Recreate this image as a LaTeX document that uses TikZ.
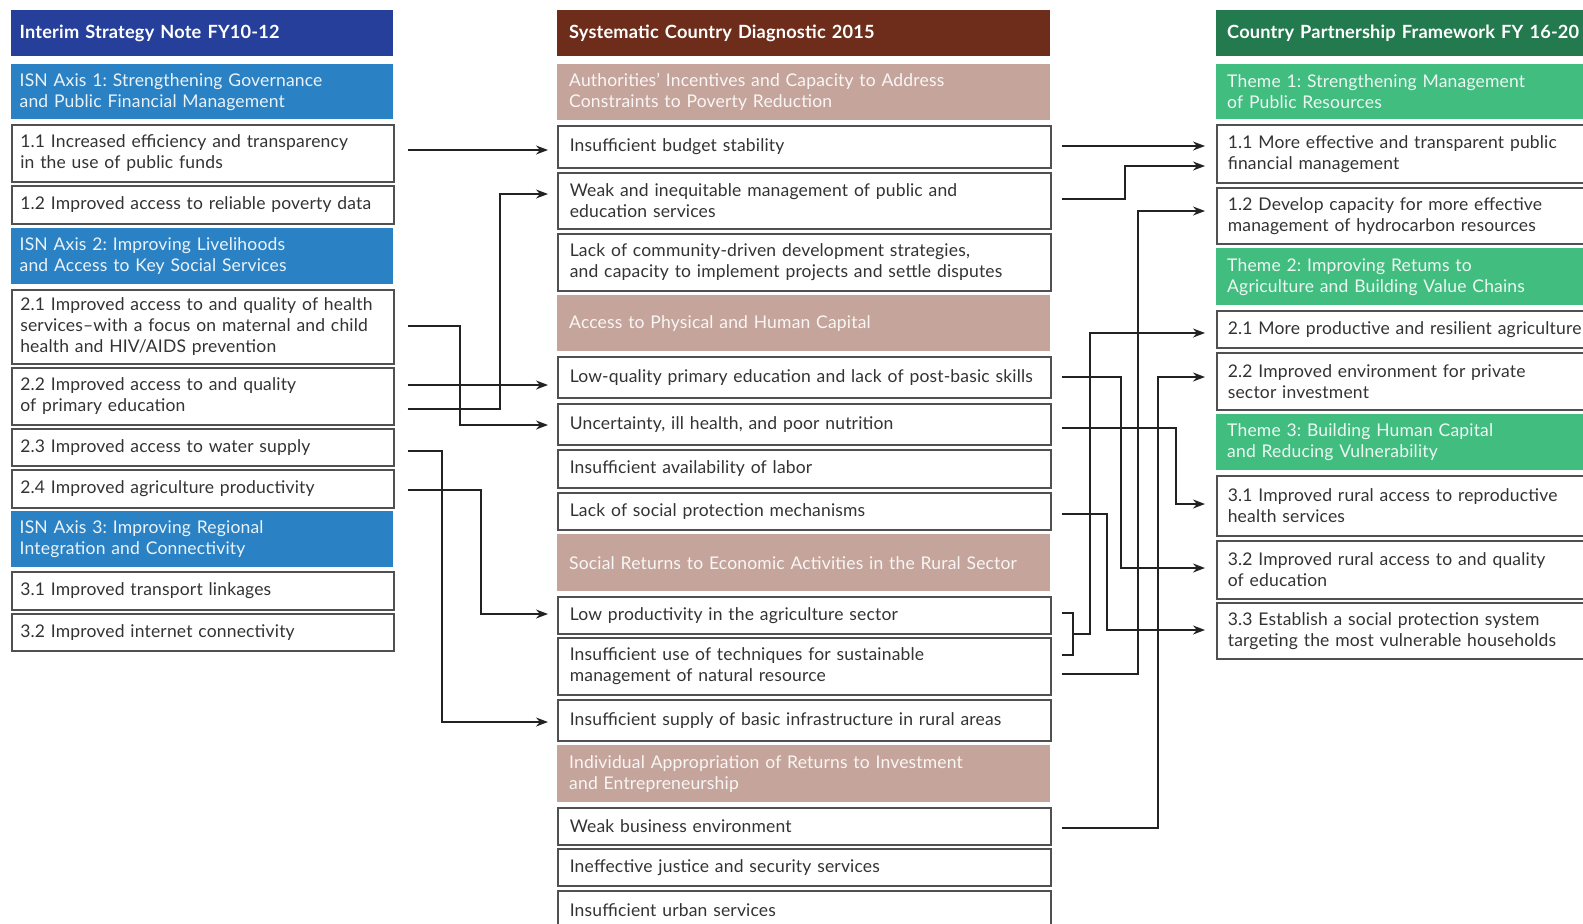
\documentclass[tikz,border=0pt]{standalone}
\usepackage{fontspec}
\setmainfont{Lato}[LetterSpace=1.0]
\usetikzlibrary{arrows.meta}
\definecolor{hLcol}{HTML}{253F9A}
\definecolor{cLcol}{HTML}{2A81C4}
\definecolor{hMcol}{HTML}{6E2D1A}
\definecolor{cMcol}{HTML}{C5A59B}
\definecolor{hRcol}{HTML}{237A4E}
\definecolor{cRcol}{HTML}{42BD80}
\definecolor{bordercol}{HTML}{505050}
\definecolor{txtcol}{HTML}{333333}
\definecolor{linecol}{HTML}{222222}
\newcommand\bodyfont{\fontsize{17.5}{21}\selectfont\frenchspacing}
\newcommand\headfont{\fontsize{18.2}{21}\selectfont\bfseries\frenchspacing}
\begin{document}
\begin{tikzpicture}[x=1pt,y=-1pt,
  base/.style={anchor=north west, inner ysep=0pt, align=left, font=\bodyfont},
  wbox/.style={base, draw=bordercol, line width=1.6pt, fill=white, text=txtcol},
  hbox/.style={base, font=\headfont, text=white},
  catbox/.style={base, text=white!90!#1},
  colL/.style={text width=365pt, inner xsep=8.5pt},
  colM/.style={text width=469pt, inner xsep=12pt},
  colR/.style={text width=420pt, inner xsep=11pt},
  con/.style={draw=linecol, line width=1.4pt},
  arr/.style={con, -{Stealth[length=12pt,width=9pt]}},
  arrL/.style={arr, shorten <=13pt, shorten >=9pt},
  arrR/.style={arr, shorten <=10pt, shorten >=11pt}
]
\useasboundingbox (0,0) rectangle (1583,924);
\fill[white] (0,0) rectangle (1583,924);

% ---------------- left column ----------------
\node[hbox, colL, fill=hLcol, minimum height=46pt] (hL) at (11,10) {Interim Strategy Note FY10-12};
\node[catbox=cLcol, colL, fill=cLcol, minimum height=55pt] (aL1) at (11,64) {ISN Axis 1: Strengthening Governance\\and Public Financial Management};
\node[wbox, colL, minimum height=57pt] (l11) at (11,124) {1.1 Increased efficiency and transparency\\in the use of public funds};
\node[wbox, colL, minimum height=38pt] (l12) at (11,185) {1.2 Improved access to reliable poverty data};
\node[catbox=cLcol, colL, fill=cLcol, minimum height=56pt] (aL2) at (11,228) {ISN Axis 2: Improving Livelihoods\\and Access to Key Social Services};
\node[wbox, colL, minimum height=74pt] (l21) at (11,289) {2.1 Improved access to and quality of health\\services--with a focus on maternal and child\\health and HIV/AIDS prevention};
\node[wbox, colL, minimum height=57pt] (l22) at (11,367) {2.2 Improved access to and quality\\of primary education};
\node[wbox, colL, minimum height=37pt] (l23) at (11,428) {2.3 Improved access to water supply};
\node[wbox, colL, minimum height=38pt] (l24) at (11,469) {2.4 Improved agriculture productivity};
\node[catbox=cLcol, colL, fill=cLcol, minimum height=56pt] (aL3) at (11,511) {ISN Axis 3: Improving Regional\\Integration and Connectivity};
\node[wbox, colL, minimum height=38pt] (l31) at (11,571) {3.1 Improved transport linkages};
\node[wbox, colL, minimum height=37pt] (l32) at (11,613) {3.2 Improved internet connectivity};

% ---------------- middle column ----------------
\node[hbox, colM, fill=hMcol, minimum height=46pt] (hM) at (557,10) {Systematic Country Diagnostic 2015};
\node[catbox=cMcol, colM, fill=cMcol, minimum height=56pt] (cA) at (557,64) {Authorities' Incentives and Capacity to Address\\Constraints to Poverty Reduction};
\node[wbox, colM, minimum height=42pt] (m1) at (557,125) {Insufficient budget stability};
\node[wbox, colM, minimum height=56pt] (m2) at (557,172) {Weak and inequitable management of public and\\education services};
\node[wbox, colM, minimum height=57pt] (m3) at (557,233) {Lack of community-driven development strategies,\\and capacity to implement projects and settle disputes};
\node[catbox=cMcol, colM, fill=cMcol, minimum height=56pt] (cB) at (557,295) {Access to Physical and Human Capital};
\node[wbox, colM, minimum height=41pt] (m4) at (557,356) {Low-quality primary education and lack of post-basic skills};
\node[wbox, colM, minimum height=41pt] (m5) at (557,403) {Uncertainty, ill health, and poor nutrition};
\node[wbox, colM, minimum height=38pt] (m6) at (557,449) {Insufficient availability of labor};
\node[wbox, colM, minimum height=37pt] (m7) at (557,492) {Lack of social protection mechanisms};
\node[catbox=cMcol, colM, fill=cMcol, minimum height=57pt] (cC) at (557,534) {Social Returns to Economic Activities in the Rural Sector};
\node[wbox, colM, minimum height=37pt] (m8) at (557,596) {Low productivity in the agriculture sector};
\node[wbox, colM, minimum height=57pt] (m9) at (557,637) {Insufficient use of techniques for sustainable\\management of natural resource};
\node[wbox, colM, minimum height=41pt] (m10) at (557,699) {Insufficient supply of basic infrastructure in rural areas};
\node[catbox=cMcol, colM, fill=cMcol, minimum height=57pt] (cD) at (557,745) {Individual Appropriation of Returns to Investment\\and Entrepreneurship};
\node[wbox, colM, minimum height=37pt] (m11) at (557,807) {Weak business environment};
\node[wbox, colM, minimum height=37pt] (m12) at (557,848) {Ineffective justice and security services};
\node[wbox, colM, minimum height=38pt] (m13) at (557,890) {Insufficient urban services};

% ---------------- right column ----------------
\node[hbox, colR, fill=hRcol, minimum height=46pt] (hR) at (1216,10) {Country Partnership Framework FY 16-20};
\node[catbox=cRcol, colR, fill=cRcol, minimum height=55pt] (t1) at (1216,64) {Theme 1: Strengthening Management\\of Public Resources};
\node[wbox, colR, minimum height=58pt] (r11) at (1216,124) {1.1 More effective and transparent public\\financial management};
\node[wbox, colR, minimum height=56pt] (r12) at (1216,187) {1.2 Develop capacity for more effective\\management of hydrocarbon resources};
\node[catbox=cRcol, colR, fill=cRcol, minimum height=57pt] (t2) at (1216,248) {Theme 2: Improving Retums to\\Agriculture and Building Value Chains};
\node[wbox, colR, minimum height=37pt] (r21) at (1216,310) {2.1 More productive and resilient agriculture};
\node[wbox, colR, minimum height=57pt] (r22) at (1216,352) {2.2 Improved environment for private\\sector investment};
\node[catbox=cRcol, colR, fill=cRcol, minimum height=56pt] (t3) at (1216,414) {Theme 3: Building Human Capital\\and Reducing Vulnerability};
\node[wbox, colR, minimum height=60pt] (r31) at (1216,475) {3.1 Improved rural access to reproductive\\health services};
\node[wbox, colR, minimum height=58pt] (r32) at (1216,540) {3.2 Improved rural access to and quality\\of education};
\node[wbox, colR, minimum height=56pt] (r33) at (1216,602) {3.3 Establish a social protection system\\targeting the most vulnerable households};

% ---------------- left -> middle connectors ----------------
\draw[arrL] (l11.east |- 0,150) -- (m1.west |- 0,150);
\draw[arrL] (l22.east |- 0,409) -| (500,194) -- (m2.west |- 0,194);
\draw[arrL] (l21.east |- 0,326) -| (460,425) -- (m5.west |- 0,425);
\draw[arrL] (l22.east |- 0,385) -- (m4.west |- 0,385);
\draw[arrL] (l23.east |- 0,451) -| (442,722) -- (m10.west |- 0,722);
\draw[arrL] (l24.east |- 0,490) -| (481,614) -- (m8.west |- 0,614);

% ---------------- middle -> right connectors ----------------
\draw[arrR] (m1.east |- 0,146) -- (r11.west |- 0,146);
\draw[arrR] (m2.east |- 0,199) -| (1125,166) -- (r11.west |- 0,166);
\draw[arrR] (m9.east |- 0,674) -| (1138,211) -- (r12.west |- 0,211);
\coordinate (brk) at (1073,634);
\draw[con, shorten <=10pt] (m8.east |- 0,613) -| (brk);
\draw[con, shorten <=10pt] (m9.east |- 0,655) -| (brk);
\draw[arr, shorten >=11pt] (brk) -| (1090,333) -- (r21.west |- 0,333);
\draw[arrR] (m11.east |- 0,828) -| (1158,377) -- (r22.west |- 0,377);
\draw[arrR] (m5.east |- 0,428) -| (1176,504) -- (r31.west |- 0,504);
\draw[arrR] (m4.east |- 0,377) -| (1121,568) -- (r32.west |- 0,568);
\draw[arrR] (m7.east |- 0,514) -| (1107,630) -- (r33.west |- 0,630);
\end{tikzpicture}
\end{document}
